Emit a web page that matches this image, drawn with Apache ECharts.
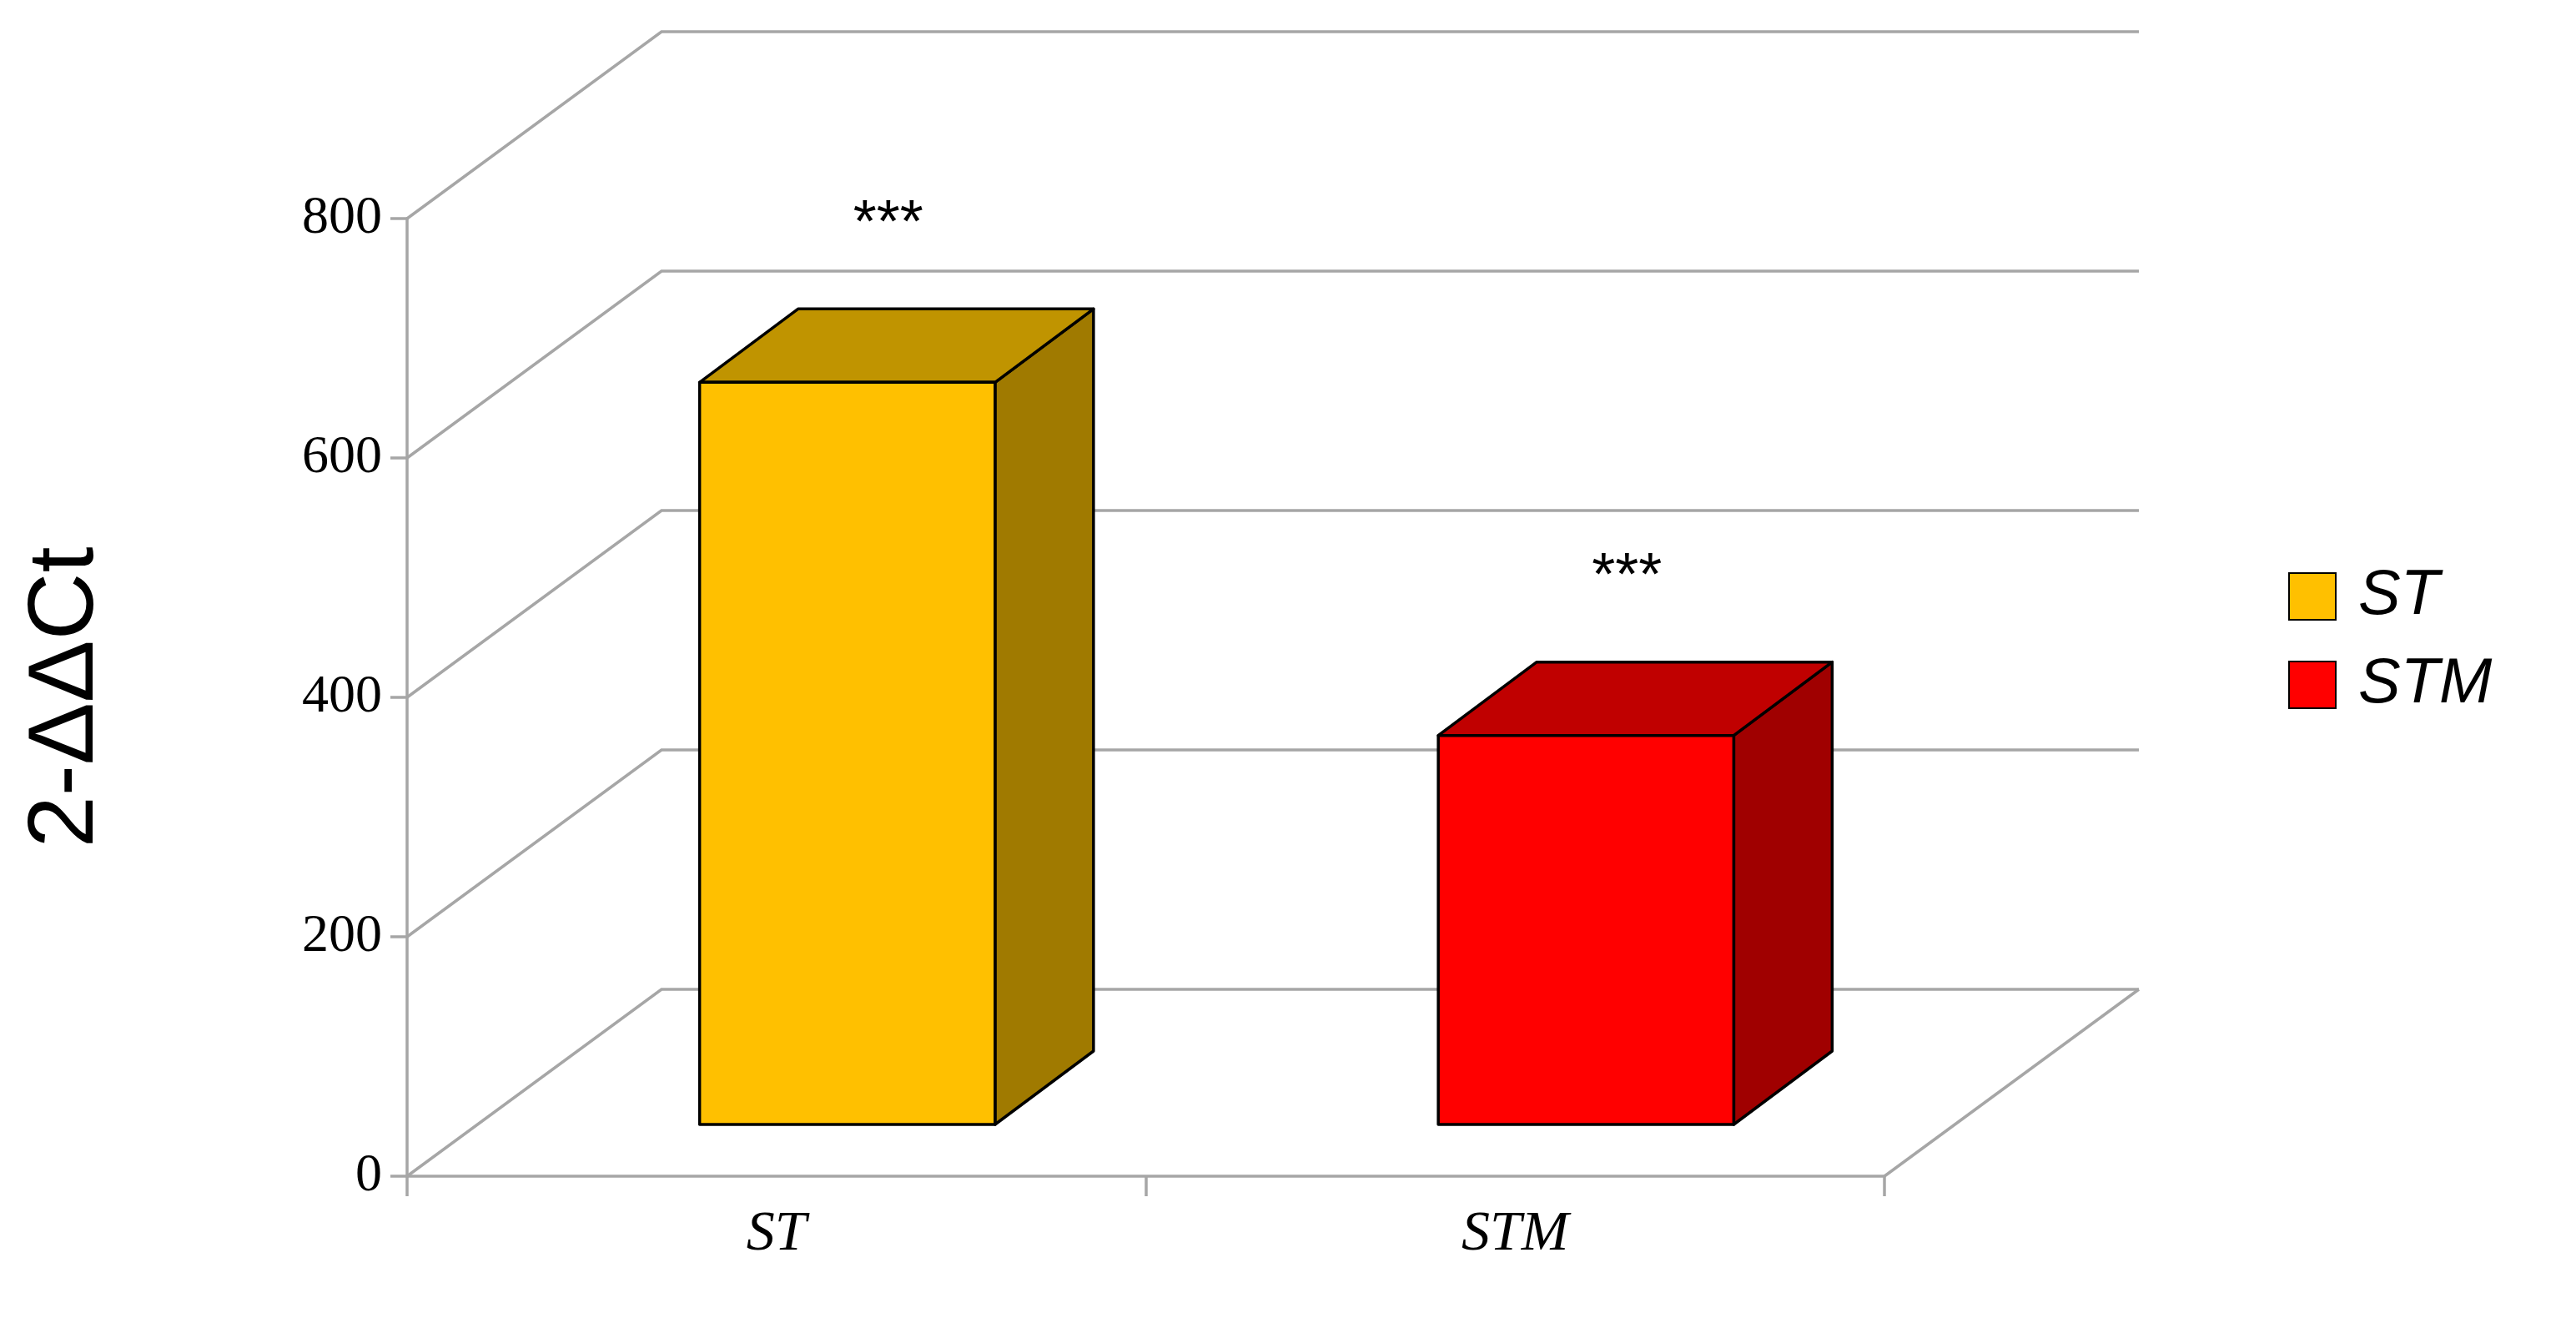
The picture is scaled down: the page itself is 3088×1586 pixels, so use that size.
<!DOCTYPE html>
<html>
<head>
<meta charset="utf-8">
<script src="https://cdn.jsdelivr.net/npm/echarts@6/dist/echarts.min.js"></script>
<style>
  html, body { margin: 0; background: #fff; }
  #chart { width: 3088px; height: 1586px; }
</style>
</head>
<body>
<div id="chart"></div>
<script>
// Chart data
const categories = ['ST', 'STM'];
const values = [620, 325];
const marks = ['***', '***'];
const yTicks = [0, 200, 400, 600, 800];

// Colours per bar: front, top, side
const faces = [
  ['#FFC000', '#C09400', '#A07A00'],
  ['#FF0000', '#C00000', '#A00000']
];

// 3D geometry (pixels)
const DX = 305, DY = -224;      // full depth of the box
const BDX = 85, BDY = -62;      // plane where bars stand
const DDX = 118, DDY = -88;     // bar depth
const gridColor = '#A6A6A6';

const chart = echarts.init(document.getElementById('chart'));

function renderWall(params, api) {
  const cs = params.coordSys;
  const v = api.value(1);
  const y = api.coord([0, v])[1];
  const left = cs.x, right = cs.x + cs.width;
  const children = [{
    type: 'polyline',
    shape: { points: [[left, y], [left + DX, y + DY], [right + DX, y + DY]] },
    style: { stroke: gridColor, lineWidth: 3.5, fill: null }
  }];
  if (v === 0) {
    children.push({
      type: 'line',
      shape: { x1: right, y1: y, x2: right + DX, y2: y + DY },
      style: { stroke: gridColor, lineWidth: 3.5 }
    });
  }
  return { type: 'group', children };
}

function renderBar(params, api) {
  const idx = api.value(0);
  const base = api.coord([idx, 0]);
  const top = api.coord([idx, api.value(1)]);
  const w = api.size([1, 0])[0] * 0.4;
  const x0 = base[0] - w / 2 + BDX, x1 = x0 + w;
  const yb = base[1] + BDY, yt = top[1] + BDY;
  const c = faces[idx];
  const stroke = { stroke: '#000', lineWidth: 3.5, lineJoin: 'round' };
  return {
    type: 'group',
    children: [
      { type: 'polygon', shape: { points: [[x1, yt], [x1 + DDX, yt + DDY], [x1 + DDX, yb + DDY], [x1, yb]] },
        style: Object.assign({ fill: c[2] }, stroke) },
      { type: 'polygon', shape: { points: [[x0, yt], [x1, yt], [x1 + DDX, yt + DDY], [x0 + DDX, yt + DDY]] },
        style: Object.assign({ fill: c[1] }, stroke) },
      { type: 'rect', shape: { x: x0, y: yt, width: w, height: yb - yt },
        style: Object.assign({ fill: c[0] }, stroke) },
      { type: 'text', x: x0 + w / 2 + DDX / 2 - 10, y: yt + DDY - 100,
        style: { text: marks[idx], fill: '#000', font: '72px "Liberation Sans"', align: 'center', verticalAlign: 'middle' } }
    ]
  };
}

chart.setOption({
  animation: false,
  grid: { left: 488, right: 829, top: 262, bottom: 176 },
  legend: {
    data: categories,
    orient: 'vertical',
    left: 2738, top: 672,
    itemWidth: 56, itemHeight: 56, itemGap: 30,
    icon: 'rect',
    textStyle: { fontFamily: 'Liberation Sans', fontStyle: 'italic', fontSize: 76, color: '#000', padding: [0, 0, 0, 22] }
  },
  xAxis: {
    type: 'category',
    data: categories,
    axisLine: { lineStyle: { color: gridColor, width: 3.5 } },
    axisTick: { show: true, length: 24, lineStyle: { color: gridColor, width: 3.5 } },
    axisLabel: { fontFamily: 'Liberation Serif', fontStyle: 'italic', fontSize: 68, color: '#000', margin: 36 }
  },
  yAxis: {
    type: 'value',
    min: 0, max: 800, interval: 200,
    name: '2-ΔΔCt',
    nameLocation: 'middle',
    nameGap: 352,
    nameTextStyle: { fontFamily: 'Liberation Sans', fontSize: 112, color: '#000' },
    axisLine: { show: true, lineStyle: { color: gridColor, width: 3.5 } },
    axisTick: { show: true, length: 20, lineStyle: { color: gridColor, width: 3.5 } },
    splitLine: { show: false },
    axisLabel: { fontFamily: 'Liberation Serif', fontSize: 64, color: '#000', margin: 30 }
  },
  series: [
    {
      type: 'custom', name: 'wall', silent: true, z: 1,
      renderItem: renderWall,
      data: yTicks.map(v => [0, v])
    },
    {
      type: 'custom', name: categories[0], z: 3,
      itemStyle: { color: faces[0][0], borderColor: '#000', borderWidth: 3 },
      renderItem: renderBar,
      data: [[0, values[0]]]
    },
    {
      type: 'custom', name: categories[1], z: 3,
      itemStyle: { color: faces[1][0], borderColor: '#000', borderWidth: 3 },
      renderItem: renderBar,
      data: [[1, values[1]]]
    }
  ]
});
</script>
</body>
</html>
